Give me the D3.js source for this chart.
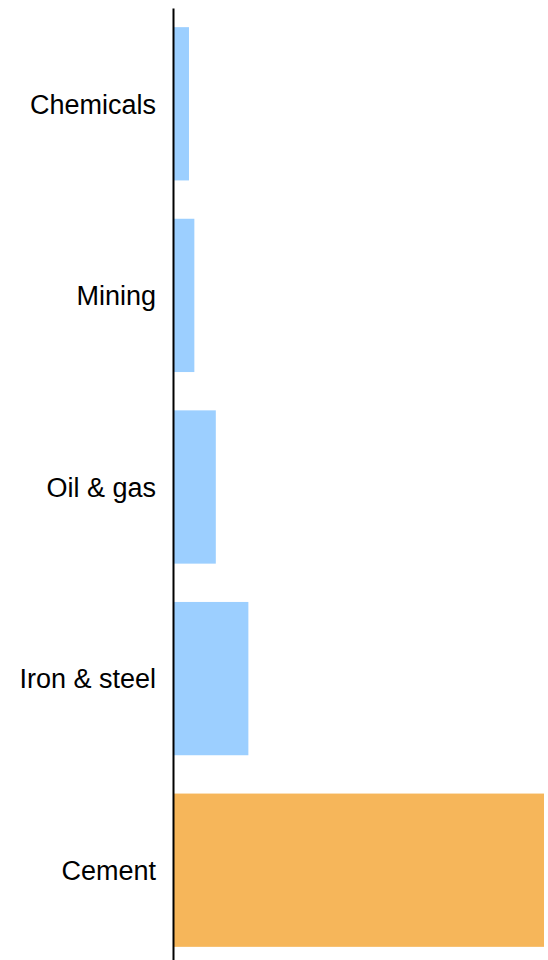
<!DOCTYPE html>
<html>
<head>
<meta charset="utf-8">
<script src="https://cdn.jsdelivr.net/npm/d3@7"></script>
<style>
html,body{margin:0;padding:0;background:#fff;}
svg{display:block;}
</style>
</head>
<body>
<svg id="chart" width="548" height="960"></svg>
<script>
const categories = ["Chemicals", "Mining", "Oil & gas", "Iron & steel", "Cement"];
const values = [4.05, 5.5, 11.3, 20.1, 100];
const highlight = ["Cement"];

const svg = d3.select("#chart");
const x0 = 174, x1 = 544;
const x = d3.scaleLinear().domain([0, d3.max(values)]).range([x0, x1]);
const y = d3.scaleBand().domain(categories).range([8, 966]).paddingInner(0.2).paddingOuter(0.1);

const data = categories.map((c, i) => ({c, v: values[i]}));

svg.append("g").selectAll("rect").data(data).join("rect")
  .attr("x", x(0))
  .attr("y", d => y(d.c))
  .attr("width", d => x(d.v) - x(0))
  .attr("height", y.bandwidth())
  .attr("fill", d => highlight.includes(d.c) ? "#f6b65a" : "#9ccfff");

const axis = d3.axisLeft(y).tickSize(0).tickPadding(17);
const g = svg.append("g").attr("transform", `translate(${x0 - 1},0)`).call(axis);
g.select(".domain").attr("stroke", "#000").attr("stroke-width", 2);
g.selectAll("text").attr("font-family", "Liberation Sans, Arial, sans-serif").attr("font-size", 27).attr("fill", "#000").attr("dy", "0.36em");
</script>
</body>
</html>
